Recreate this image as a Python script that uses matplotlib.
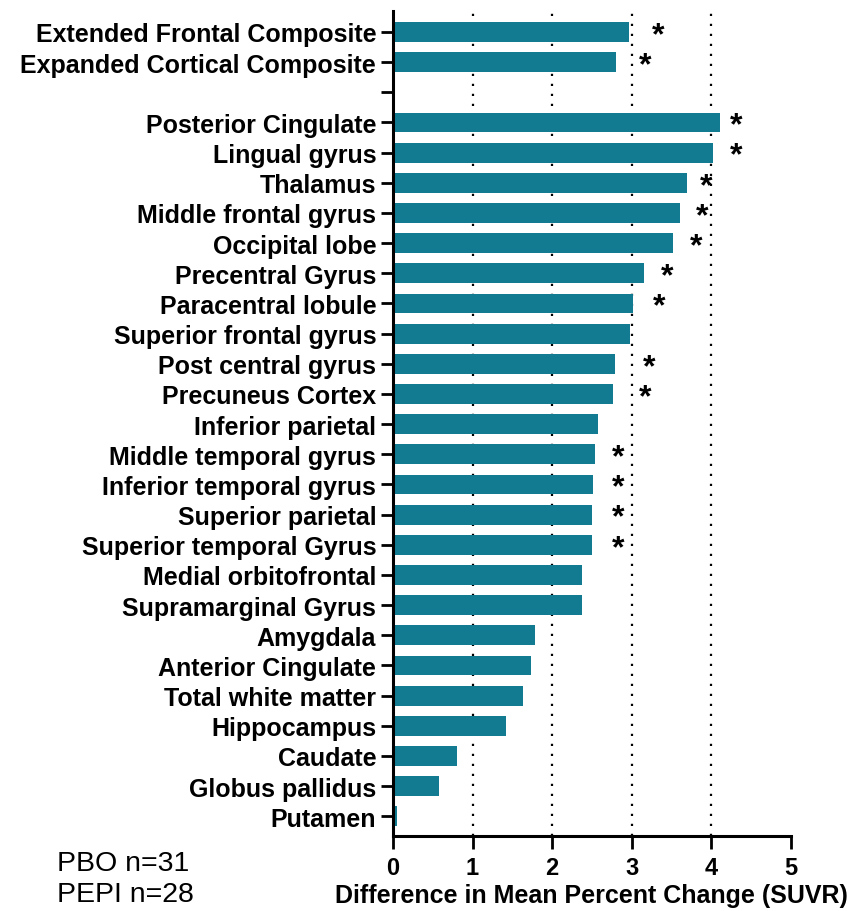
import numpy as np
import matplotlib
matplotlib.use('Agg')
import matplotlib.pyplot as plt

plt.rcParams['font.family'] = ['Liberation Sans', 'DejaVu Sans']

regions = ['Extended Frontal Composite', 'Expanded Cortical Composite', '',
           'Posterior Cingulate', 'Lingual gyrus', 'Thalamus', 'Middle frontal gyrus',
           'Occipital lobe', 'Precentral Gyrus', 'Paracentral lobule',
           'Superior frontal gyrus', 'Post central gyrus', 'Precuneus Cortex',
           'Inferior parietal', 'Middle temporal gyrus', 'Inferior temporal gyrus',
           'Superior parietal', 'Superior temporal Gyrus', 'Medial orbitofrontal',
           'Supramarginal Gyrus', 'Amygdala', 'Anterior Cingulate',
           'Total white matter', 'Hippocampus', 'Caudate', 'Globus pallidus', 'Putamen']
diff = [2.97, 2.80, np.nan,
        4.11, 4.02, 3.69, 3.61, 3.52, 3.15, 3.01, 2.98, 2.79, 2.76,
        2.58, 2.54, 2.51, 2.50, 2.50, 2.38, 2.37, 1.78, 1.74, 1.64,
        1.42, 0.81, 0.58, 0.05]
# where the significance star sits (x value), None = not significant
star_x = [3.33, 3.17, None,
          4.31, 4.31, 3.94, 3.88, 3.81, 3.45, 3.34, None, 3.22, 3.17,
          None, 2.83, 2.83, 2.83, 2.83, None, None, None, None, None,
          None, None, None, None]

fig = plt.figure(figsize=(8.56, 9.12), dpi=100)
ax = fig.add_axes([0.459, 0.082, 0.465, 0.905])

y = np.arange(len(regions))
ax.barh(y, np.nan_to_num(diff), height=0.66, color='#127b92', zorder=2)
for yi, sx in zip(y, star_x):
    if sx is not None:
        ax.text(sx, yi + 0.1, '*', ha='center', va='center', fontsize=23,
                fontweight='bold', zorder=3)

for gx in [1, 2, 3, 4]:
    ax.axvline(gx, color='black', linestyle=(0, (1, 3.5)), linewidth=1.6, zorder=1)

ax.set_ylim(len(regions) - 1 + 0.66, -0.70)
ax.set_xlim(0, 5)
ax.set_yticks(y)
ax.set_yticklabels(regions, fontsize=18, fontweight='bold')
ax.set_xticks([0, 1, 2, 3, 4, 5])
ax.set_xticklabels(['0', '1', '2', '3', '4', '5'], fontsize=17, fontweight='bold')
ax.tick_params(axis='both', length=9, width=2, direction='out')
ax.tick_params(axis='y', pad=3)
ax.tick_params(axis='x', pad=5)
for s in ['top', 'right']:
    ax.spines[s].set_visible(False)
for s in ['left', 'bottom']:
    ax.spines[s].set_linewidth(2.2)

ax.set_xlabel('Difference in Mean Percent Change (SUVR)', fontsize=18,
              fontweight='bold', labelpad=3)

fig.text(0.067, 0.053, 'PBO n=31', fontsize=20.5, va='center')
fig.text(0.067, 0.019, 'PEPI n=28', fontsize=20.5, va='center')

fig.savefig('out.png', dpi=100)
